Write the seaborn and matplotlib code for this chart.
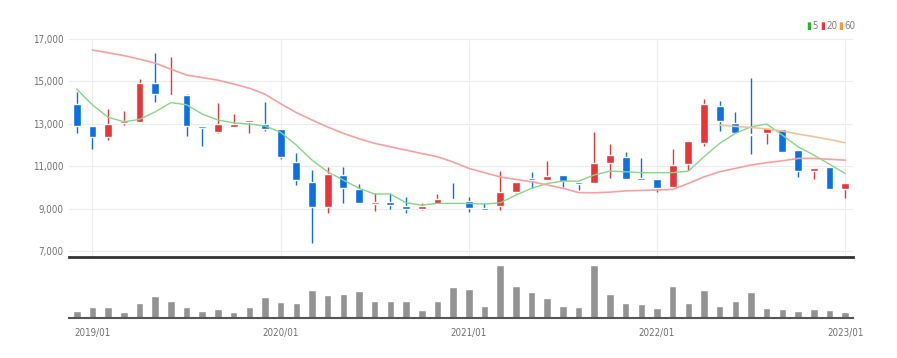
import numpy as np
import pandas as pd
import matplotlib
matplotlib.use('Agg')
import matplotlib.pyplot as plt
import seaborn as sns

# monthly candles 2018/12 .. 2023/01
months = pd.date_range('2018-12-01', '2023-01-01', freq='MS').strftime('%Y/%m').tolist()

opens = [13920, 12900, 12390, 13020, 13100, 14940, 14310, 14340, 12900, 12630,
         12870, 13085, 13000, 12740, 11180, 10270, 9060, 10585, 9925, 9220,
         9310, 9120, 8970, 9200, 9470, 9360, 9010, 9120, 9800, 10460,
         10350, 10570, 10270, 10195, 11140, 11450, 10445, 10380, 10000, 11100,
         12110, 13840, 13050, 12530, 12580, 12740, 11765, 10760, 10950, 9910]
closes = [12910, 12360, 12990, 13150, 14910, 14400, 14380, 12900, 12790, 12980,
          12980, 13180, 12740, 11420, 10335, 9090, 10630, 9960, 9250, 9310,
          9155, 8970, 9120, 9440, 9405, 9015, 8935, 9770, 10240, 10350,
          10540, 10300, 10160, 11165, 11530, 10380, 10350, 9960, 11070, 12200,
          13950, 13115, 12550, 12470, 12800, 11655, 10775, 10915, 9910, 10220]
highs = [14515, 12900, 13700, 13600, 15100, 16350, 16165, 14400, 12900, 13995,
         13450, 13180, 14040, 12760, 11610, 10820, 10950, 10980, 10150, 9750,
         9750, 9560, 9280, 9690, 10220, 9560, 9250, 10770, 10240, 10740,
         11260, 10570, 10270, 12630, 12050, 11680, 11370, 10380, 11800, 12200,
         14170, 14075, 13570, 15150, 12800, 12740, 11765, 10915, 10950, 10220]
lows = [12580, 11800, 12236, 12943, 13100, 14040, 14300, 12440, 11950, 12550,
        12860, 12580, 12660, 11340, 10110, 7360, 8810, 9280, 9250, 8900,
        8970, 8810, 8950, 9200, 9400, 8850, 8930, 8930, 9720, 9960,
        10350, 10030, 9880, 10190, 10430, 10380, 10340, 9800, 10000, 10820,
        11950, 12675, 12550, 11560, 12050, 11655, 10505, 10380, 9910, 9485]
volumes = [70, 107, 107, 60, 150, 217, 173, 110, 70, 93,
           60, 110, 207, 160, 150, 283, 233, 240, 267, 167,
           167, 167, 83, 167, 310, 293, 117, 533, 317, 263,
           203, 123, 113, 533, 240, 150, 137, 100, 320, 150,
           280, 117, 167, 263, 100, 90, 73, 90, 83, 57]

ma5 = [14640, 13890, 13310, 13100, 13210, 13570, 14000, 13900, 13460, 13180,
       13050, 12990, 12900, 12600, 12000, 11290, 10740, 10350, 9960, 9690,
       9690, 9280, 9170, 9250, 9250, 9250, 9220, 9280, 9640, 9960,
       10190, 10300, 10300, 10590, 10770, 10740, 10700, 10700, 10700, 10770,
       11450, 12080, 12550, 12860, 12990, 12470, 11920, 11530, 11100, 10660]
ma20 = [np.nan, 16480, 16350, 16220, 16050, 15860, 15580, 15300, 15180, 15060,
        14880, 14680, 14400, 13950, 13530, 13180, 12850, 12550, 12300, 12080,
        11920, 11760, 11600, 11450, 11200, 10900, 10700, 10500, 10380, 10270,
        10120, 9960, 9760, 9750, 9780, 9840, 9860, 9880, 9910, 10190,
        10500, 10740, 10900, 11060, 11170, 11260, 11370, 11370, 11330, 11290]
ma60 = [np.nan] * 41 + [12940, 12880, 12830, 12760, 12660, 12520, 12400, 12260, 12110]

year_ticks = ['2019/01', '2020/01', '2021/01', '2022/01', '2023/01']
price_ticks = [7000, 9000, 11000, 13000, 15000, 17000]

UP = '#e83538'
DOWN = '#0b70e4'

df = pd.DataFrame({'month': months, 'open': opens, 'close': closes,
                   'high': highs, 'low': lows, 'volume': volumes,
                   'ma5': ma5, 'ma20': ma20, 'ma60': ma60})
df['i'] = np.arange(len(df))
df['up'] = df['close'] >= df['open']
tick_pos = [months.index(m) for m in year_ticks]

sns.set_style('white')
plt.rcParams['font.family'] = ['DejaVu Sans']
plt.rcParams['font.stretch'] = 'condensed'
fig = plt.figure(figsize=(8.97, 3.58), dpi=100)
ax = fig.add_axes([0.0769, 0.282, 0.874, 0.609])
axv = fig.add_axes([0.0769, 0.1117, 0.874, 0.157], sharex=ax)

# price panel
for t in price_ticks:
    ax.axhline(t, color='#ececec', lw=0.8, zorder=0)
for p in tick_pos:
    ax.axvline(p, color='#ececec', lw=0.8, zorder=0)

cols = np.where(df['up'], UP, DOWN)
ax.vlines(df['i'], df['low'], df['high'], colors=cols, lw=1, zorder=3)
body_lo = df[['open', 'close']].min(axis=1)
body_h = (df['close'] - df['open']).abs().clip(lower=60)
ax.bar(df['i'], body_h, bottom=body_lo, width=0.5, color=cols, zorder=4)

sns.lineplot(data=df, x='i', y='ma5', color='#85d685', lw=1, ax=ax, zorder=5)
sns.lineplot(data=df, x='i', y='ma20', color='#f7a0a0', lw=1.2, ax=ax, zorder=5)
sns.lineplot(data=df, x='i', y='ma60', color='#f6c196', lw=1.2, ax=ax, zorder=5)

ax.set_xlim(-0.5, len(df) - 0.5)
ax.set_ylim(6720, 17000)
ax.set_yticks(price_ticks)
ax.set_yticklabels([f'{t:,}' for t in price_ticks], fontsize=7, color='#707070')
ax.tick_params(axis='y', length=0, pad=4)
ax.tick_params(axis='x', length=0, labelbottom=False)
ax.set_xlabel('')
ax.set_ylabel('')
for s in ['top', 'right', 'left']:
    ax.spines[s].set_visible(False)
ax.spines['bottom'].set_color('#333333')
ax.spines['bottom'].set_linewidth(2)

# volume panel
sns.barplot(x=df['i'], y=df['volume'], color='#939393', width=0.48,
            saturation=1, ax=axv, native_scale=True)
axv.set_xlim(-0.5, len(df) - 0.5)
axv.set_ylim(0, 560)
axv.set_yticks([])
axv.set_xticks(tick_pos)
axv.set_xticklabels(year_ticks, fontsize=7, color='#707070')
axv.tick_params(axis='x', length=4, width=1, color='#333333', direction='out', pad=3)
axv.set_xlabel('')
axv.set_ylabel('')
for s in ['top', 'right', 'left']:
    axv.spines[s].set_visible(False)
axv.spines['bottom'].set_color('#555555')
axv.spines['bottom'].set_linewidth(1.5)

# legend
for x, c, lab in [(0.899, '#22b822', '5'), (0.914, UP, '20'), (0.934, '#f39a3c', '60')]:
    fig.text(x, 0.927, '▮', color=c, fontsize=7, va='center', ha='left')
    fig.text(x + 0.007, 0.927, lab, color='#808080', fontsize=7, va='center', ha='left')

fig.savefig('out.png', dpi=100)
